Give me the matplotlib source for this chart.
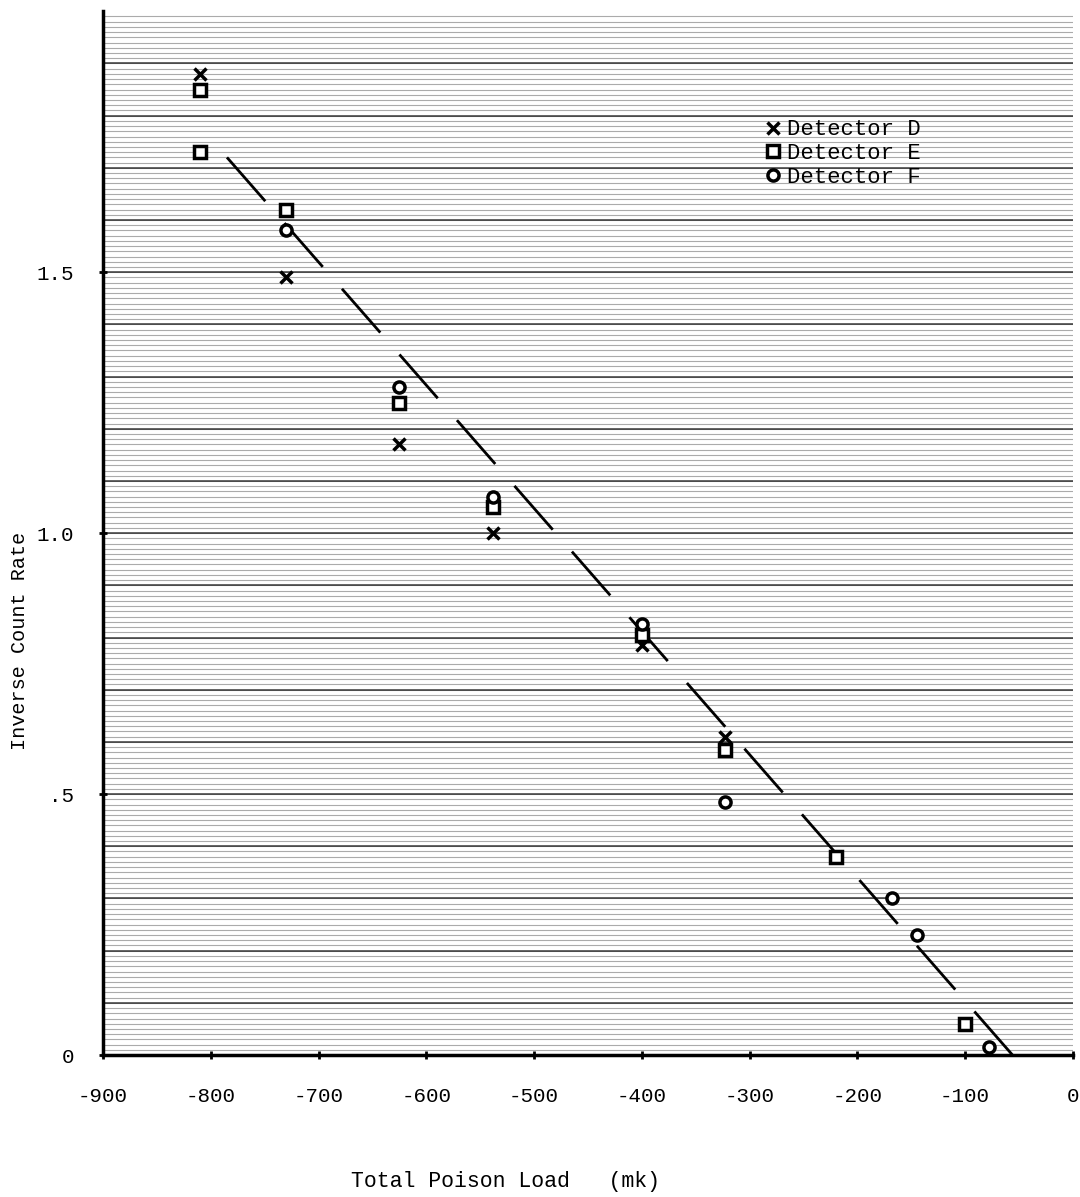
import numpy as np
import matplotlib
matplotlib.use('Agg')
import matplotlib.pyplot as plt

plt.rcParams['font.family'] = ['Liberation Mono', 'DejaVu Sans Mono']

# valores
d_x = [-810, -730, -625, -538, -400, -323]
d_y = [1.88, 1.49, 1.17, 1.00, 0.785, 0.61]

e_x = [-810, -810, -730, -625, -538, -400, -323, -220, -100]
e_y = [1.85, 1.73, 1.62, 1.25, 1.05, 0.805, 0.585, 0.38, 0.06]

f_x = [-730, -625, -538, -400, -323, -168, -145, -78]
f_y = [1.58, 1.28, 1.07, 0.825, 0.485, 0.30, 0.23, 0.015]

ajuste_x = [-785, -56]
ajuste_y = [1.72, 0.0]

xticks = [-900, -800, -700, -600, -500, -400, -300, -200, -100, 0]
yticks = [0, 0.5, 1.0, 1.5]
ytick_labels = ['0', '.5', '1.0', '1.5']

fig = plt.figure(figsize=(10.8, 11.97), dpi=100)
ax = fig.add_axes([0.0954, 0.1186, 0.898, 0.872])

# textura do papel milimetrado escaneado
for y in np.arange(0.0, 2.0, 0.01):
    ax.axhline(y, color='0.45', lw=0.8, alpha=0.6, zorder=0)
for y in np.arange(0.1, 2.0, 0.1):
    ax.axhline(y, color='0.1', lw=1.1, alpha=0.85, zorder=0)

ax.plot(ajuste_x, ajuste_y, color='black', lw=2.0, linestyle=(0, (20.95, 10.48)), zorder=2)

ax.plot(d_x, d_y, 'x', color='black', ms=9, mew=2.5, label='Detector D', zorder=3)
ax.plot(e_x, e_y, 's', mfc='white', mec='black', ms=8, mew=2.5, label='Detector E', zorder=3)
ax.plot(f_x, f_y, 'o', mfc='white', mec='black', ms=8, mew=2.5, label='Detector F', zorder=3)

ax.set_xlim(-900, 0)
ax.set_ylim(0, 2.0)
ax.set_xticks(xticks)
ax.set_xticklabels([str(t) for t in xticks])
ax.set_yticks(yticks)
ax.set_yticklabels(ytick_labels)
ax.tick_params(axis='both', labelsize=15, width=2, length=6, direction='inout')
ax.tick_params(axis='x', pad=20)
ax.tick_params(axis='y', pad=18)

for s in ['top', 'right']:
    ax.spines[s].set_visible(False)
for s in ['left', 'bottom']:
    ax.spines[s].set_linewidth(2.5)

leg = ax.legend(loc='upper left', bbox_to_anchor=(0.67, 0.905), frameon=False,
                fontsize=16, handletextpad=0.15, labelspacing=0.12,
                handlelength=1.0, borderaxespad=0)

fig.text(0.468, 0.004, 'Total Poison Load   (mk)', fontsize=15.5, ha='center', va='bottom')
fig.text(0.018, 0.465, 'Inverse Count Rate', fontsize=14.5, rotation=90, ha='center', va='center')

fig.savefig('out.png', dpi=100)
